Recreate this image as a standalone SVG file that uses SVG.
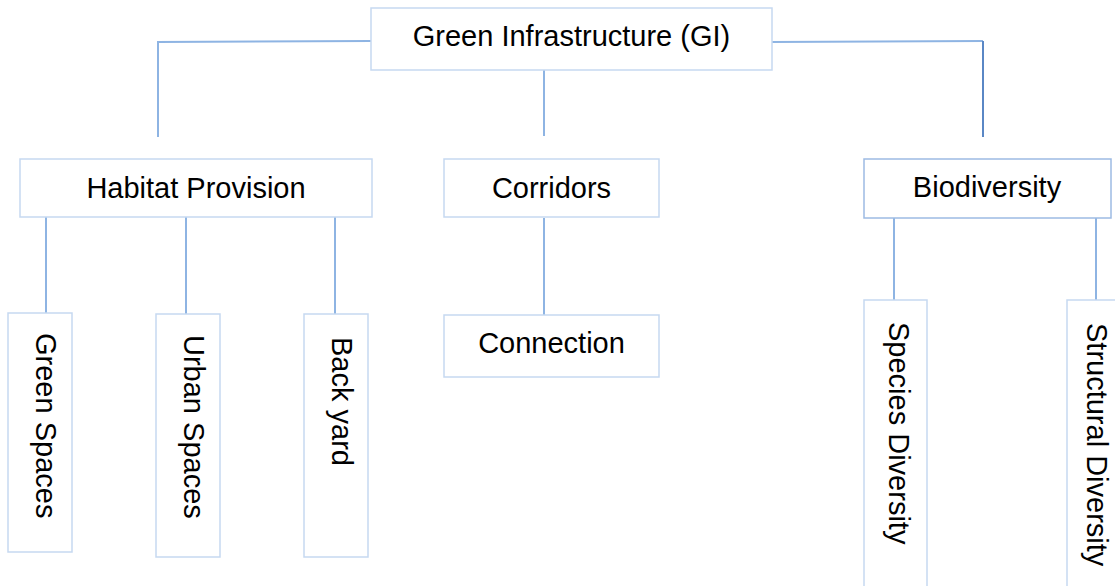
<svg xmlns="http://www.w3.org/2000/svg" width="1115" height="586" viewBox="0 0 1115 586">
  <style>
    .box { fill: #ffffff; stroke: #c6d9f1; stroke-width: 1.5; }
    .box-strong { fill: #ffffff; stroke: #9dbbe3; stroke-width: 1.5; }
    .lbl { font-family: "Liberation Sans", Arial, sans-serif; font-size: 29px; fill: #000000; }
    .mid { text-anchor: middle; }
    .link { fill: none; stroke: #8eb4e3; stroke-width: 2; }
    .link-dark { fill: none; stroke: #5a87c5; stroke-width: 2; }
  </style>
  <rect width="1115" height="586" fill="#ffffff"/>

  <!-- connectors -->
  <g id="connectors">
    <polyline class="link" points="371,41 158,42 158,137"/>
    <line class="link" x1="544" y1="70" x2="544" y2="136"/>
    <polyline class="link" points="772,42 983,41"/>
    <line class="link-dark" x1="983" y1="41" x2="983" y2="137"/>
    <line class="link" x1="46" y1="217" x2="46" y2="313"/>
    <line class="link" x1="186" y1="217" x2="186" y2="314"/>
    <line class="link" x1="335" y1="217" x2="335" y2="314"/>
    <line class="link" x1="544" y1="218" x2="544" y2="315"/>
    <line class="link" x1="894" y1="218" x2="894" y2="300"/>
    <line class="link" x1="1096" y1="218" x2="1096" y2="300"/>
  </g>

  <g id="gi">
    <rect class="box" x="371" y="8" width="401" height="62"/>
    <text class="lbl mid" x="571.5" y="46">Green Infrastructure (GI)</text>
  </g>

  <g id="habitat">
    <rect class="box" x="20" y="159" width="352" height="58"/>
    <text class="lbl mid" x="196" y="198">Habitat Provision</text>
  </g>

  <g id="corridors">
    <rect class="box" x="444" y="159" width="215" height="58"/>
    <text class="lbl mid" x="551.5" y="198">Corridors</text>
  </g>

  <g id="biodiversity">
    <rect class="box-strong" x="864" y="159" width="247" height="59"/>
    <text class="lbl mid" x="987" y="197">Biodiversity</text>
  </g>

  <g id="green-spaces">
    <rect class="box" x="8" y="313" width="64" height="239"/>
    <text class="lbl" transform="translate(36,333) rotate(90)">Green Spaces</text>
  </g>

  <g id="urban-spaces">
    <rect class="box" x="156" y="314" width="64" height="243"/>
    <text class="lbl" transform="translate(184,335) rotate(90)">Urban Spaces</text>
  </g>

  <g id="back-yard">
    <rect class="box" x="304" y="314" width="64" height="243"/>
    <text class="lbl" transform="translate(332,337) rotate(90)">Back yard</text>
  </g>

  <g id="connection">
    <rect class="box" x="444" y="315" width="215" height="62"/>
    <text class="lbl mid" x="551.5" y="353">Connection</text>
  </g>

  <g id="species-diversity">
    <rect class="box" x="864" y="300" width="63" height="300"/>
    <text class="lbl" transform="translate(889,322) rotate(90)">Species Diversity</text>
  </g>

  <g id="structural-diversity">
    <rect class="box" x="1067" y="300" width="64" height="300"/>
    <text class="lbl" transform="translate(1087,323) rotate(90)">Structural Diversity</text>
  </g>
</svg>
